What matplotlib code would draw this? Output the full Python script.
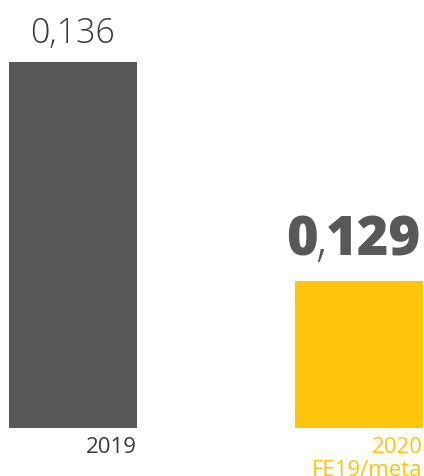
import numpy as np
import matplotlib.pyplot as plt

years = ["2019", "2020\nFE19/meta"]
values = [0.136, 0.129]
value_labels = ["0,136", "0,129"]
bar_colors = ["#58585a", "#ffc40c"]
label_colors = ["#3a3a3a", "#ffc40c"]

plt.rcParams['font.family'] = ['Open Sans', 'DejaVu Sans']

fig = plt.figure(figsize=(4.24, 4.76), dpi=100)
ax = fig.add_axes([9 / 424, 48 / 476, 414 / 424, 428 / 476])

x = np.arange(len(values))
w = 0.4476
ax.bar(x, values, width=w, color=bar_colors)
ax.set_xlim(-w / 2, 1 + w / 2)
ax.set_ylim(0.1243, 0.1380)

# value labels
ax.annotate(value_labels[0], (x[0], values[0]), xytext=(0, 14), textcoords="offset points",
            ha="center", va="baseline", fontsize=24.5, fontweight="light", color="#3a3a3a")

# highlighted label: heavy digits, thin comma
int_part, dec_part = value_labels[1].split(",")
kw = dict(xycoords="data", textcoords="offset points", va="baseline", color="#58585a")
ax.annotate(int_part, (x[1], values[1]), xytext=(-30, 18.5), ha="right",
            fontsize=39, fontweight="heavy", **kw)
ax.annotate(",", (x[1], values[1]), xytext=(-27, 18.5), ha="center",
            fontsize=39, fontweight="light", **kw)
ax.annotate(dec_part, (x[1], values[1]), xytext=(-24, 18.5), ha="left",
            fontsize=39, fontweight="heavy", **kw)

# category labels, right-aligned under bars
ax.set_xticks(x + w / 2)
ax.set_xticklabels(years, ha="right", fontsize=16, linespacing=1.1)
for lbl, c in zip(ax.get_xticklabels(), label_colors):
    lbl.set_color(c)
ax.tick_params(axis="x", length=0, pad=6.5)
ax.set_yticks([])
for s in ax.spines.values():
    s.set_visible(False)

fig.savefig("out.png", dpi=100)
